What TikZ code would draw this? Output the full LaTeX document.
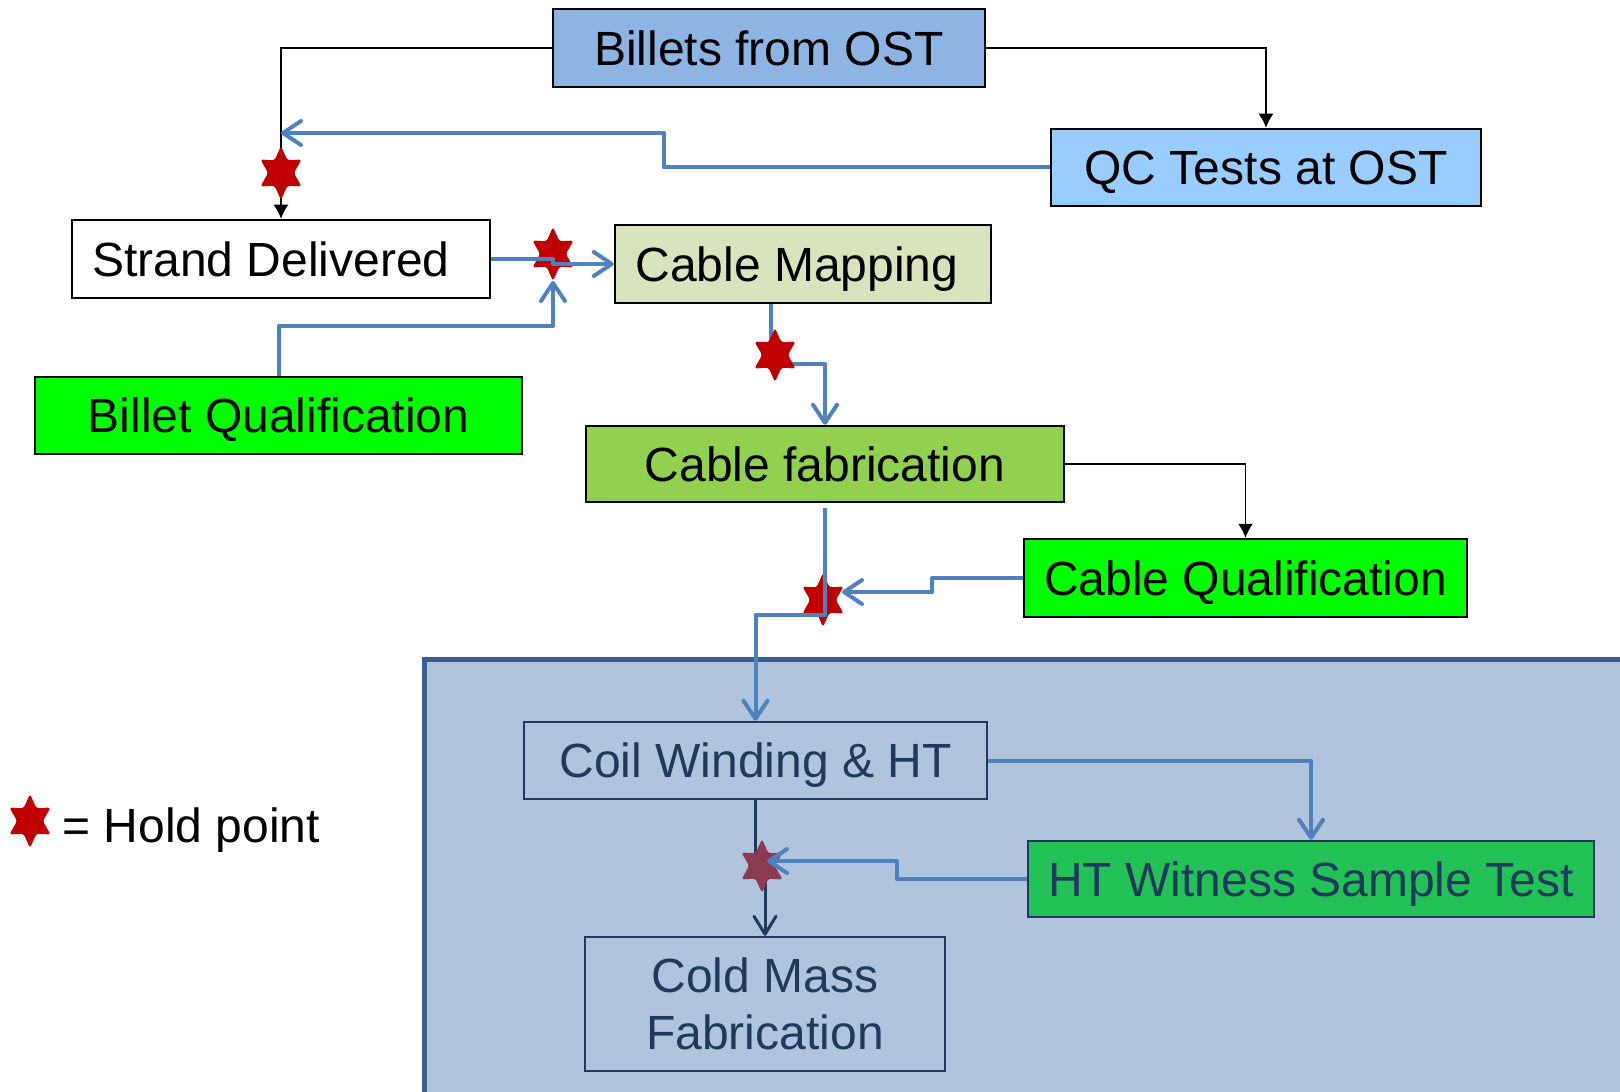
\documentclass[tikz,border=0pt]{standalone}
\usepackage{fontspec}
\setmainfont{Liberation Sans}
\usetikzlibrary{shapes.geometric,arrows.meta}
\definecolor{billetsblue}{HTML}{8EB4E3}
\definecolor{qcblue}{HTML}{99CCFF}
\definecolor{mapgreen}{HTML}{D7E4BD}
\definecolor{brightgreen}{HTML}{00FF00}
\definecolor{fabgreen}{HTML}{92D050}
\definecolor{regionfill}{HTML}{B0C4DE}
\definecolor{regionedge}{HTML}{3A5F8C}
\definecolor{navy}{HTML}{203A5C}
\definecolor{htgreen}{HTML}{22C256}
\definecolor{linkblue}{HTML}{4F81BD}
\definecolor{holdred}{HTML}{C00000}
\definecolor{holddark}{HTML}{8B3A52}
\begin{document}
\begin{tikzpicture}[x=0.5pt,y=-0.5pt,
 boxtext/.style={font=\fontsize{24pt}{28.5pt}\selectfont},
 box/.style={boxtext, draw=black, line width=1.25pt, inner sep=0pt, align=center, text depth=0pt},
 regbox/.style={box, draw=navy, text=navy},
 blackflow/.style={draw=black, line width=0.75pt, -{Latex[length=7pt,width=7.5pt]}},
 blueflow/.style={draw=linkblue, line width=2pt, line join=round, -{Straight Barb[length=9pt,width=12pt,round]}},
 navyflow/.style={draw=navy, line width=1.5pt, -{Straight Barb[length=9pt,width=11pt,round]}},
 holdpoint/.style={star, star points=6, star point ratio=1.85, minimum size=27pt, inner sep=0pt, fill=holdred, rounded corners=1.3pt, xscale=0.88, transform shape},
]
\useasboundingbox (0,0) rectangle (1620,1091);
\fill[white] (0,0) rectangle (1620,1091);
\begin{scope}
\clip (0,0) rectangle (1620,1091);
\draw[fill=regionfill, draw=regionedge, line width=2.5pt] (424,659) rectangle (1660,1130);
\end{scope}

% boxes
\node[box, fill=billetsblue, minimum width=216pt, minimum height=39pt] (billets) at (769,48) {Billets from OST};
\node[box, fill=qcblue, minimum width=215pt, minimum height=38.5pt] (qc) at (1266,167.5) {QC Tests at OST};
\node[box, fill=white, minimum width=209pt, minimum height=39pt] (strand) at (281,259) {\hspace*{-10pt}Strand Delivered};
\node[box, fill=mapgreen, minimum width=188pt, minimum height=39pt] (map) at (803,264) {\hspace*{-6pt}Cable Mapping};
\node[box, fill=brightgreen, minimum width=243.5pt, minimum height=38.5pt] (bq) at (278.5,415.5) {Billet Qualification};
\node[box, fill=fabgreen, minimum width=239pt, minimum height=38pt] (fab) at (825,464) {Cable fabrication};
\node[box, fill=brightgreen, minimum width=221.5pt, minimum height=39pt] (cq) at (1245.5,578) {Cable Qualification};
\node[regbox, minimum width=231.5pt, minimum height=38.5pt] (coil) at (755.5,760.5) {Coil Winding \& HT};
\node[regbox, fill=htgreen, minimum width=283pt, minimum height=38pt] (ht) at (1311,879) {HT Witness Sample Test};
\node[regbox, minimum width=180pt, minimum height=67pt] (cold) at (765,1004) {Cold Mass\\Fabrication};

% black connectors
\draw[blackflow] (billets.west) -| (strand.north);
\draw[blackflow] (billets.east) -| (qc.north);
\draw[blackflow] (fab.east) -| (cq.north);

% hold points under the blue lines
\node[holdpoint] (h2) at (553,254) {};
\node[holdpoint] (h4) at (823,600) {};

% blue connectors
\coordinate (qcin) at (281,133);
\draw[blueflow] (qc.west) -- (664,167.5) -- (664,133) -- (qcin);
\draw[blueflow] (strand.east) -- (553,259) -- (553,264) -- (map.west);
\coordinate (bqin) at (553,281);
\draw[blueflow] (bq.north) |- (553,326) -- (bqin);
\draw[blueflow] (771,0 |- map.south) -- (771,364) -| (fab.north);
\draw[blueflow] (fab.south) ++(0,5) -- (825,615) -| (coil.north);
\coordinate (cqin) at (842,592);
\draw[blueflow] (cq.west) -- (932,578) -- (932,592) -- (cqin);
\draw[blueflow] (coil.east) -| (ht.north);

% hold points above the lines
\node[holdpoint] (h1) at (281,173) {};
\node[holdpoint] (h3) at (775,355) {};

% navy connector and last hold point
\draw[navyflow] (coil.south) -- (755.5,866) -- (765,866) -- (cold.north);
\node[holdpoint, fill=holddark] (h5) at (762,866) {};
\coordinate (htin) at (767,861);
\draw[blueflow] (ht.west) -- (897,879) -- (897,861) -- (htin);

% legend
\node[holdpoint] (h6) at (30,821) {};
\node[boxtext, anchor=base west, inner sep=0pt] (legend) at (62,842) {= Hold point};
\end{tikzpicture}
\end{document}
